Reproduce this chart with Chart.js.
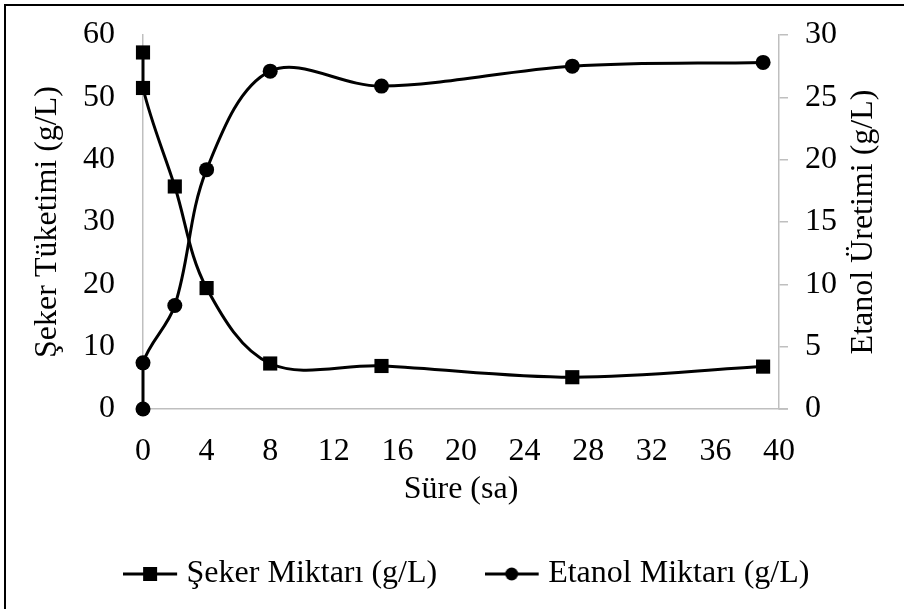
<!DOCTYPE html>
<html>
<head>
<meta charset="utf-8">
<script src="https://cdn.jsdelivr.net/npm/chart.js@4/dist/chart.umd.min.js"></script>
<style>
  html, body { margin: 0; padding: 0; background: #fff; }
  canvas { display: block; }
</style>
</head>
<body>
<canvas id="chart" width="904" height="609"></canvas>
<script>
// Veriler
const sugarTime = [0, 0, 2, 4, 8, 15, 27, 39];
const sugarValues = [57.2, 51.5, 35.7, 19.4, 7.3, 6.9, 5.1, 6.8];
const ethanolTime = [0, 0, 2, 4, 8, 15, 27, 39];
const ethanolValues = [0, 3.7, 8.3, 19.2, 27.1, 25.9, 27.5, 27.8];

const seriesNames = ['Şeker Miktarı (g/L)', 'Etanol Miktarı (g/L)'];
const xTitle = 'Süre (sa)';
const leftTitle = 'Şeker Tüketimi (g/L)';
const rightTitle = 'Etanol Üretimi (g/L)';

const FONT = 'Liberation Serif, Times New Roman, serif';
const AXIS_GRAY = '#bfbfbf';

// lejant simgesi: çizgi + işaret
function legendIcon(kind) {
    const c = document.createElement('canvas');
    c.width = 55;
    c.height = 20;
    const g = c.getContext('2d');
    g.strokeStyle = '#000';
    g.lineWidth = 3;
    g.beginPath();
    g.moveTo(0, 10);
    g.lineTo(54, 10);
    g.stroke();
    g.fillStyle = '#000';
    if (kind === 'rect') {
        g.fillRect(20, 3, 14, 14);
    } else {
        g.beginPath();
        g.arc(27, 10, 6.5, 0, Math.PI * 2);
        g.fill();
    }
    return c;
}

const toPoints = (xs, ys) => xs.map((x, i) => ({ x: x, y: ys[i] }));

// sağ eksen başlığı (aşağıdan yukarı okunur), x ekseni uzantısı, dış çerçeve
const extras = {
    id: 'extras',
    beforeDatasetsDraw(chart) {
        const ctx = chart.ctx;
        const a = chart.chartArea;
        ctx.save();
        ctx.strokeStyle = AXIS_GRAY;
        ctx.lineWidth = 1.5;
        ctx.beginPath();
        ctx.moveTo(a.right, a.bottom);
        ctx.lineTo(a.right + 9, a.bottom);
        ctx.stroke();
        ctx.restore();
    },
    afterDraw(chart) {
        const ctx = chart.ctx;
        const s = chart.scales.y1;
        ctx.save();
        ctx.fillStyle = '#000';
        ctx.font = '32px ' + FONT;
        ctx.textAlign = 'center';
        ctx.textBaseline = 'middle';
        ctx.translate(s.right - 40, (s.top + s.bottom) / 2);
        ctx.rotate(-Math.PI / 2);
        ctx.fillText(rightTitle, 0, 0);
        ctx.restore();

        ctx.save();
        ctx.fillStyle = '#000';
        ctx.fillRect(4, 4, chart.width, 2);
        ctx.fillRect(4, 4, 2, chart.height);
        ctx.restore();
    }
};

const ctx = document.getElementById('chart').getContext('2d');
new Chart(ctx, {
    type: 'scatter',
    data: {
        datasets: [{
            label: seriesNames[0],
            data: toPoints(sugarTime, sugarValues),
            yAxisID: 'y',
            showLine: true,
            clip: false,
            borderColor: '#000',
            backgroundColor: '#000',
            borderWidth: 3,
            tension: 0.35,
            pointStyle: 'rect',
            pointRadius: 10,
            pointBorderWidth: 0
        }, {
            label: seriesNames[1],
            data: toPoints(ethanolTime, ethanolValues),
            yAxisID: 'y1',
            showLine: true,
            clip: false,
            borderColor: '#000',
            backgroundColor: '#000',
            borderWidth: 3,
            tension: 0.35,
            pointStyle: 'circle',
            pointRadius: 7.5,
            pointBorderWidth: 0
        }]
    },
    options: {
        responsive: false,
        animation: false,
        layout: { padding: { left: 36, right: 0, top: 35, bottom: 9 } },
        plugins: {
            tooltip: { enabled: false },
            legend: {
                position: 'bottom',
                labels: {
                    color: '#000',
                    font: { family: FONT, size: 32 },
                    usePointStyle: true,
                    pointStyleWidth: 40,
                    padding: 55,
                    generateLabels(chart) {
                        const items = Chart.defaults.plugins.legend.labels.generateLabels(chart);
                        items.forEach(it => {
                            it.pointStyle = legendIcon(it.datasetIndex === 0 ? 'rect' : 'circle');
                        });
                        return items;
                    }
                }
            }
        },
        scales: {
            x: {
                type: 'linear',
                min: 0,
                max: 40,
                ticks: { stepSize: 4, color: '#000', padding: 15, font: { family: FONT, size: 32 } },
                grid: { display: false },
                border: { color: AXIS_GRAY, width: 1.5 },
                title: {
                    display: true,
                    text: xTitle,
                    color: '#000',
                    font: { family: FONT, size: 32 },
                    padding: { top: 0, bottom: -6 }
                },
                afterFit(scale) { scale.height = 94; }
            },
            y: {
                position: 'left',
                min: 0,
                max: 60,
                ticks: { stepSize: 10, color: '#000', padding: 20, font: { family: FONT, size: 32, lineHeight: 0.8 } },
                grid: { display: false },
                border: { color: AXIS_GRAY, width: 1.5 },
                title: {
                    display: true,
                    text: leftTitle,
                    color: '#000',
                    font: { family: FONT, size: 32 },
                    padding: { top: -8, bottom: 0 }
                },
                afterFit(scale) { scale.width = 107; }
            },
            y1: {
                position: 'right',
                min: 0,
                max: 30,
                ticks: { stepSize: 5, color: '#000', padding: 17, font: { family: FONT, size: 32, lineHeight: 0.8 } },
                grid: { display: true, drawOnChartArea: false, drawTicks: true, tickLength: 9, color: AXIS_GRAY, lineWidth: 1.5 },
                border: { color: AXIS_GRAY, width: 1.5 },
                afterFit(scale) { scale.width = 125; }
            }
        }
    },
    plugins: [extras]
});
</script>
</body>
</html>
